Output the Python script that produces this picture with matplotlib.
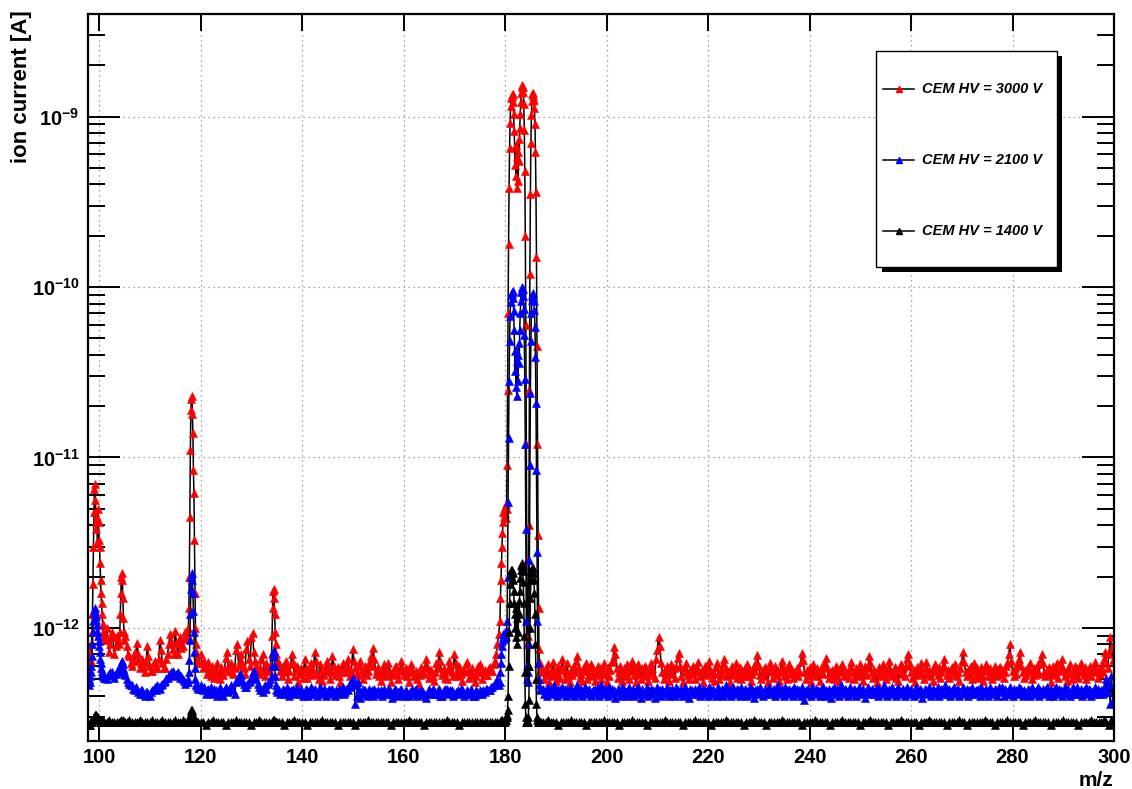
import matplotlib

matplotlib.use("Agg")
import matplotlib.pyplot as plt
import numpy as np
from matplotlib.lines import Line2D
from matplotlib.patches import Rectangle
from matplotlib.ticker import FixedLocator, FuncFormatter, LogLocator, NullFormatter, NullLocator

# ion currents below are given in units of 1e-14 A
UNIT = 1e-14

# scan segments as (first m/z, last m/z, step); the 0.1 steps sit on the peaks
SEGMENTS = [(98.0, 100.9, 0.1), (101.0, 103.75, 0.25), (104.0, 105.1, 0.1),
            (105.5, 117.25, 0.25), (117.5, 119.5, 0.1), (120.0, 133.75, 0.25),
            (134.0, 135.0, 0.1), (135.5, 178.75, 0.25), (179.0, 187.0, 0.1),
            (187.5, 300.0, 0.25)]
# the 1400 V scan was stored with a coarser step away from the peaks
BLACK_SEGMENTS = [(98.0, 100.9, 0.1), (101.0, 103.5, 0.5), (104.0, 105.1, 0.1),
                  (105.5, 117.0, 0.5), (117.5, 119.5, 0.1), (120.0, 133.5, 0.5),
                  (134.0, 135.0, 0.1), (135.5, 178.5, 0.5), (179.0, 187.0, 0.1),
                  (187.5, 300.0, 0.5)]

LABELS = ["CEM HV = 3000 V", "CEM HV = 2100 V", "CEM HV = 1400 V"]
COLORS = ["#ff0000", "#0000ff", "#000000"]
DECADES = [1e-12, 1e-11, 1e-10, 1e-9]

# ---- CEM HV = 3000 V ----
RED_98 = [62, 75, 56, 70, 64, 80, 95, 120, 180, 300,
          480, 650, 700, 560, 420, 380, 450, 320, 500, 420,
          330, 300, 240, 190, 160, 140, 120, 105, 95, 88]
RED_101 = [85, 92, 100, 86, 72, 80, 95, 88, 70, 78, 90, 84]
RED_104 = [80, 95, 120, 160, 200, 210, 190, 150, 115, 95, 85, 90]
RED_105 = [78, 70, 68, 62, 60, 66, 72, 64, 82, 70, 58, 62, 66, 60, 55, 62, 78, 68, 60, 56,
           56, 62, 64, 58, 58, 66, 85, 74, 62, 58, 58, 66, 70, 80, 92, 84, 75, 70, 96, 82,
           70, 80, 88, 76, 78, 86, 95, 90]
RED_117 = [90, 100, 130, 200, 450, 1100, 1900, 2200, 2300, 1800, 1400,
           850, 620, 330, 160, 100, 80, 72, 66, 70, 62]
RED_120 = [70, 62, 58, 64, 60, 54, 63, 57, 52, 60, 56, 51, 57, 62, 53, 50, 59, 55, 53, 58,
           67, 72, 56, 60, 62, 55, 54, 58, 74, 80, 60, 64, 70, 62, 58, 54, 75, 84, 66, 60,
           88, 93, 72, 64, 60, 56, 54, 58, 66, 70, 56, 52, 62, 58, 56, 60]
RED_134 = [70, 90, 130, 165, 170, 150, 120, 95, 80, 70, 64]
RED_135 = [62, 56, 52, 60, 55, 64, 58, 50, 56, 61, 70, 63, 52, 57, 60, 48, 54, 58, 55, 51,
           66, 58, 51, 55, 58, 62, 53, 57, 72, 64, 54, 50, 61, 56, 49, 53, 56, 60, 64, 58,
           50, 55, 68, 60, 53, 57, 59, 52, 48, 55, 62, 57, 55, 60, 66, 58, 52, 56, 75, 64,
           58, 54, 53, 60, 64, 57, 50, 55, 60, 53, 56, 62, 68, 60, 76, 66, 54, 57, 59, 52,
           49, 54, 57, 61, 52, 56, 62, 55, 48, 53, 55, 59, 60, 54, 50, 56, 64, 58, 53, 57,
           58, 52, 48, 55, 61, 57, 52, 54, 56, 50, 47, 53, 59, 55, 54, 60, 66, 58, 51, 56,
           57, 52, 49, 55, 62, 58, 72, 64, 53, 56, 58, 51, 50, 57, 64, 59, 55, 52, 70, 62,
           52, 57, 60, 54, 49, 55, 56, 61, 63, 57, 51, 54, 58, 53, 48, 52, 55, 60, 61, 56,
           50, 55, 57, 53, 53, 58, 59, 56, 56, 61, 64, 70, 80, 92]
RED_179 = [110, 150, 190, 240, 300, 360, 420, 480, 450, 510,
           470, 530, 440, 500, 900, 2500, 7000, 18000, 38000, 65000,
           92000, 115000, 128000, 134000, 131000, 135000, 122000, 104000, 82000, 66000,
           52000, 68000, 45000, 58000, 38000, 62000, 42000, 74000, 55000, 86000,
           104000, 122000, 138000, 149000, 154000, 150000, 140000, 118000, 84000, 48000,
           20000, 6000, 1200, 250, 80, 60, 90, 400, 2500, 12000,
           35000, 70000, 102000, 124000, 136000, 138000, 133000, 126000, 112000, 90000,
           62000, 36000, 15000, 4500, 1200, 350, 130, 75, 62, 56,
           58]
RED_187 = [55, 50, 58, 53, 61, 48, 56, 52, 63, 57, 49, 54, 60, 51, 57, 66, 59, 50, 55, 62,
           52, 48, 57, 53, 60, 55, 64, 68, 58, 51, 54, 49, 59, 56, 62, 50, 53, 58, 61, 52,
           57, 49, 55, 60, 53, 58, 50, 56, 62, 54, 48, 59, 52, 57, 63, 66, 77, 70, 58, 51,
           55, 60, 49, 54, 58, 52, 61, 56, 50, 57, 64, 59, 53, 48, 56, 61, 54, 50, 58, 53,
           60, 52, 57, 49, 55, 62, 58, 53, 51, 66, 74, 89, 78, 62, 55, 50, 57, 53, 60, 49,
           56, 61, 54, 58, 51, 59, 67, 71, 60, 52, 48, 55, 58, 62, 53, 50, 57, 54, 60, 56,
           50, 58, 63, 55, 52, 57, 48, 54, 60, 53, 58, 64, 56, 51, 55, 49, 59, 62, 54, 50,
           57, 53, 61, 66, 58, 52, 55, 48, 56, 60, 53, 57, 62, 51, 54, 59, 50, 56, 52, 58,
           55, 61, 52, 57, 49, 54, 60, 56, 63, 69, 60, 53, 50, 57, 52, 59, 55, 48, 56, 62,
           58, 51, 54, 60, 53, 57, 49, 55, 64, 59, 52, 56, 50, 58, 61, 54, 57, 51, 55, 53,
           58, 52, 56, 63, 71, 65, 55, 50, 57, 53, 59, 48, 54, 61, 56, 52, 58, 55, 49, 57,
           60, 54, 62, 67, 58, 51, 55, 53, 57, 50, 56, 60, 53, 49, 58, 55, 61, 52, 56, 54,
           55, 51, 59, 63, 56, 50, 54, 58, 52, 57, 61, 54, 49, 56, 60, 53, 58, 68, 62, 55,
           51, 57, 54, 48, 56, 59, 52, 55, 61, 57, 50, 54, 58, 64, 56, 52, 55, 59, 51, 57,
           49, 56, 61, 54, 58, 52, 60, 66, 70, 61, 55, 51, 57, 48, 54, 59, 53, 56, 62, 55,
           50, 58, 63, 54, 57, 52, 55, 49, 58, 61, 56, 53, 59, 51, 55, 60, 66, 58, 53, 57,
           51, 56, 59, 53, 57, 61, 52, 55, 49, 58, 64, 72, 63, 55, 52, 57, 54, 60, 50, 56,
           62, 53, 58, 51, 55, 59, 53, 49, 56, 61, 57, 52, 58, 54, 50, 56, 60, 55, 52, 58,
           59, 54, 57, 51, 55, 60, 62, 70, 80, 64, 56, 52, 58, 54, 61, 66, 72, 60, 55, 51,
           57, 53, 59, 56, 62, 50, 55, 58, 53, 57, 61, 54, 64, 70, 62, 55, 52, 57, 54, 59,
           48, 55, 60, 53, 57, 62, 51, 56, 59, 66, 58, 52, 55, 49, 57, 61, 54, 50, 56, 60,
           53, 58, 51, 55, 62, 57, 53, 59, 50, 56, 54, 60, 52, 57, 55, 63, 58, 51, 56, 54,
           60, 55, 66, 72, 62, 58, 70, 88, 76, 65, 82]

# ---- CEM HV = 2100 V ----
BLUE_98 = [50, 46, 52, 48, 55, 60, 68, 80, 95, 110,
           122, 128, 130, 126, 118, 112, 104, 96, 90, 84,
           78, 72, 66, 62, 58, 56, 54, 52, 53, 51]
BLUE_101 = [52, 51, 50, 53, 54, 55, 55, 53, 51, 54, 56, 55]
BLUE_104 = [55, 56, 58, 60, 62, 64, 63, 61, 58, 56, 54, 53]
BLUE_105 = [50, 48, 47, 46, 46, 44, 43, 45, 44, 42, 41, 43, 43, 41, 40, 42, 42, 41, 40, 42,
            43, 44, 45, 43, 46, 45, 44, 46, 47, 48, 49, 51, 51, 53, 54, 55, 56, 53, 52, 54,
            55, 53, 51, 52, 50, 49, 47, 48]
BLUE_117 = [48, 50, 55, 65, 85, 120, 170, 200, 210, 190, 160,
            125, 95, 72, 58, 50, 47, 46, 45, 46, 44]
BLUE_120 = [46, 44, 43, 45, 41, 43, 44, 42, 45, 43, 41, 44, 43, 40, 42, 45, 43, 41, 40, 44,
            45, 43, 42, 44, 46, 44, 43, 41, 48, 50, 52, 54, 53, 49, 47, 45, 45, 47, 48, 49,
            51, 55, 56, 52, 50, 47, 45, 43, 44, 42, 45, 46, 44, 47, 48, 50]
BLUE_134 = [52, 60, 68, 72, 73, 68, 60, 52, 46, 43, 42]
BLUE_135 = [43, 41, 42, 44, 41, 43, 45, 42, 40, 43, 42, 44, 41, 42, 45, 43, 41, 44, 42, 40,
            42, 44, 43, 40, 42, 45, 41, 43, 44, 41, 40, 43, 45, 42, 41, 44, 43, 40, 42, 44,
            41, 43, 44, 42, 40, 43, 41, 44, 42, 43, 45, 41, 42, 44, 43, 46, 45, 48, 51, 46,
            36, 40, 48, 44, 39, 42, 44, 41, 43, 40, 42, 44, 41, 43, 40, 44, 42, 41, 43, 41,
            43, 40, 42, 44, 41, 42, 44, 43, 41, 39, 42, 44, 43, 40, 42, 43, 44, 41, 40, 42,
            43, 41, 40, 42, 42, 44, 41, 43, 44, 40, 42, 41, 43, 42, 41, 40, 39, 42, 44, 41,
            42, 44, 43, 41, 41, 43, 44, 40, 40, 42, 43, 44, 44, 41, 42, 43, 43, 40, 41, 42,
            42, 43, 41, 44, 44, 42, 40, 41, 43, 42, 41, 44, 42, 40, 40, 43, 42, 41, 43, 42,
            41, 43, 42, 44, 44, 43, 43, 45, 45, 46, 47, 48, 50, 46]
BLUE_179 = [48, 55, 62, 70, 78, 84, 88, 92, 86, 94,
            88, 95, 90, 96, 110, 200, 550, 1300, 2800, 4800,
            6800, 8200, 9000, 9400, 9100, 9500, 8600, 7200, 5600, 4200,
            3200, 4300, 2600, 3700, 2300, 4000, 2800, 4700, 3600, 5600,
            7000, 8300, 9300, 9800, 10000, 9700, 8900, 7400, 5200, 2900,
            1200, 380, 110, 60, 50, 48, 55, 80, 250, 900,
            2400, 4800, 7000, 8400, 9000, 9200, 8800, 8300, 7300, 5800,
            3900, 2100, 850, 280, 110, 62, 50, 46, 44, 43,
            44]
BLUE_187 = [44, 41, 43, 40, 45, 42, 44, 41, 43, 46, 42, 40, 44, 43, 41, 45, 42, 44, 40, 43,
            42, 45, 41, 43, 40, 44, 42, 46, 41, 43, 44, 40, 42, 45, 41, 43, 44, 42, 40, 43,
            41, 44, 42, 45, 40, 43, 46, 42, 41, 44, 43, 40, 45, 42, 44, 41, 43, 39, 42, 44,
            43, 40, 45, 41, 44, 42, 40, 43, 45, 41, 42, 44, 40, 43, 41, 45, 42, 39, 44, 42,
            41, 43, 45, 40, 42, 44, 41, 43, 39, 42, 45, 41, 43, 40, 44, 42, 41, 43, 45, 40,
            43, 41, 44, 42, 40, 45, 43, 41, 42, 44, 40, 43, 45, 41, 42, 39, 44, 43, 41, 42,
            44, 41, 43, 45, 40, 42, 44, 41, 43, 42, 40, 45, 43, 41, 44, 42, 40, 43, 45, 41,
            42, 44, 40, 43, 46, 41, 42, 44, 40, 43, 45, 41, 42, 44, 43, 40, 45, 42, 41, 44,
            43, 40, 42, 45, 41, 44, 39, 43, 42, 44, 41, 45, 43, 40, 42, 44, 41, 43, 45, 42,
            41, 43, 44, 40, 42, 46, 43, 41, 44, 42, 40, 45, 43, 41, 44, 42, 43, 40, 45, 42,
            44, 41, 43, 40, 45, 42, 38, 43, 41, 44, 42, 40, 45, 43, 41, 44, 42, 43, 40, 44,
            42, 45, 40, 43, 41, 44, 42, 39, 43, 45, 41, 42, 44, 40, 43, 46, 42, 41, 44, 43,
            40, 43, 45, 42, 41, 44, 43, 40, 42, 45, 41, 43, 44, 42, 39, 43, 45, 41, 42, 44,
            43, 41, 42, 45, 40, 44, 42, 43, 41, 46, 43, 40, 42, 44, 41, 45, 43, 42, 40, 44,
            45, 42, 41, 43, 44, 40, 42, 45, 43, 41, 44, 42, 40, 43, 45, 41, 42, 44, 43, 39,
            42, 44, 43, 41, 45, 42, 40, 44, 43, 41, 42, 45, 40, 43, 44, 41, 42, 46, 43, 41,
            44, 40, 43, 42, 45, 41, 43, 44, 40, 42, 43, 45, 41, 42, 44, 40, 43, 41, 45, 42,
            41, 43, 42, 44, 40, 45, 42, 41, 43, 44, 42, 40, 45, 43, 41, 42, 44, 43, 40, 45,
            43, 42, 45, 40, 44, 41, 42, 43, 45, 41, 40, 44, 42, 43, 41, 45, 42, 44, 40, 43,
            42, 41, 44, 43, 40, 45, 43, 42, 41, 44, 45, 40, 43, 42, 44, 41, 43, 45, 42, 40,
            44, 42, 40, 43, 45, 41, 42, 44, 43, 40, 42, 45, 41, 43, 44, 40, 42, 43, 45, 41,
            43, 45, 41, 42, 44, 40, 43, 42, 45, 41, 44, 43, 40, 42, 41, 45, 43, 44, 42, 41,
            43, 41, 45, 44, 50, 42, 47, 36, 52, 38, 46]

# ---- CEM HV = 1400 V ----
BLACK_98 = [27, 27, 28, 27, 28, 28, 28, 29, 29, 29,
            30, 30, 31, 31, 31, 31, 30, 30, 30, 29,
            29, 29, 28, 28, 28, 28, 29, 28, 28, 28]
BLACK_101 = [28, 28, 29, 28, 28, 28]
BLACK_104 = [28, 28, 28, 29, 28, 28, 28, 28, 29, 28, 28, 28]
BLACK_105 = [28, 29, 28, 28, 28, 29, 28, 28, 28, 28, 29, 28,
             28, 28, 29, 28, 28, 28, 28, 29, 28, 28, 29, 28]
BLACK_117 = [28, 28, 28, 29, 30, 31, 32, 33, 33, 32, 31,
             30, 29, 29, 28, 28, 28, 28, 28, 28, 28]
BLACK_120 = [28, 28, 27, 28, 28, 29, 28, 28, 28, 28, 27, 28, 28, 28,
             29, 28, 28, 28, 28, 28, 27, 28, 28, 29, 28, 28, 28, 28]
BLACK_134 = [28, 28, 28, 29, 29, 29, 28, 28, 28, 28, 28]
BLACK_135 = [28, 28, 27, 28, 28, 28, 29, 28, 28, 28,
             28, 27, 28, 28, 28, 28, 28, 29, 28, 28,
             28, 28, 28, 27, 28, 28, 28, 28, 28, 28,
             27, 28, 28, 28, 28, 29, 28, 28, 28, 28,
             28, 28, 28, 28, 27, 28, 28, 28, 28, 28,
             28, 29, 28, 28, 28, 28, 28, 27, 28, 28,
             28, 28, 28, 28, 28, 28, 29, 28, 28, 28,
             28, 27, 28, 28, 28, 28, 28, 28, 28, 28,
             28, 28, 28, 28, 28, 28, 28]
BLACK_179 = [28, 28, 29, 28, 28, 29, 28, 28, 29, 28,
             29, 29, 30, 30, 31, 33, 40, 60, 95, 140,
             180, 205, 218, 212, 220, 210, 190, 165, 140, 120,
             100, 130, 88, 115, 80, 125, 95, 144, 120, 165,
             195, 220, 235, 240, 232, 215, 185, 140, 90, 55,
             36, 30, 28, 28, 29, 28, 30, 38, 60, 100,
             150, 190, 215, 225, 218, 224, 210, 190, 160, 120,
             80, 50, 36, 30, 29, 28, 28, 28, 28, 28,
             28]
BLACK_187 = [28, 28, 29, 28, 28, 28, 27, 28, 28, 28, 28, 29, 28, 28, 28, 28, 28, 27, 28, 28,
             28, 28, 28, 28, 29, 28, 28, 28, 28, 28, 27, 28, 28, 28, 28, 29, 28, 28, 28, 28,
             28, 27, 28, 28, 28, 28, 28, 28, 29, 28, 28, 28, 28, 28, 28, 27, 28, 28, 28, 28,
             29, 28, 28, 28, 28, 28, 27, 28, 28, 28, 28, 28, 29, 28, 28, 28, 28, 28, 28, 27,
             28, 28, 28, 29, 28, 28, 28, 28, 27, 28, 28, 28, 28, 28, 29, 28, 28, 28, 28, 28,
             28, 28, 27, 28, 28, 28, 28, 29, 28, 28, 28, 28, 28, 27, 28, 28, 28, 28, 29, 28,
             28, 28, 28, 28, 28, 27, 28, 28, 28, 29, 28, 28, 28, 28, 28, 28, 27, 28, 28, 28,
             28, 29, 28, 28, 28, 28, 28, 28, 27, 28, 28, 28, 29, 28, 28, 28, 28, 28, 28, 27,
             28, 28, 28, 28, 29, 28, 28, 27, 28, 28, 28, 28, 28, 28, 29, 28, 28, 28, 27, 28,
             28, 28, 28, 29, 28, 28, 28, 28, 28, 27, 28, 28, 28, 28, 29, 28, 28, 28, 28, 28,
             27, 28, 28, 28, 28, 29, 28, 28, 28, 28, 28, 27, 28, 28, 28, 28, 29, 28, 28, 28,
             28, 29, 28, 27, 29, 28]

RED = [RED_98, RED_101, RED_104, RED_105, RED_117, RED_120, RED_134, RED_135, RED_179, RED_187]
BLUE = [BLUE_98, BLUE_101, BLUE_104, BLUE_105, BLUE_117, BLUE_120, BLUE_134, BLUE_135,
        BLUE_179, BLUE_187]
BLACK = [BLACK_98, BLACK_101, BLACK_104, BLACK_105, BLACK_117, BLACK_120, BLACK_134, BLACK_135,
         BLACK_179, BLACK_187]

W, H = 1132, 789


def fx(x):
    return x / W


def fy(y):
    return 1 - y / H


def build(parts, segments):
    mz, cur = [], []
    for (start, stop, step), vals in zip(segments, parts):
        n = int(round((stop - start) / step)) + 1
        assert len(vals) == n, f"segment {start}: {len(vals)} values, expected {n}"
        mz.append(start + step * np.arange(n))
        cur.append(np.asarray(vals, dtype=float) * UNIT)
    return np.concatenate(mz), np.concatenate(cur)


def decade_label(v, _pos):
    return r"$\mathbf{10^{%d}}$" % int(round(np.log10(v)))


plt.rcParams["font.family"] = ["Liberation Sans", "DejaVu Sans"]
plt.rcParams["mathtext.fontset"] = "custom"
plt.rcParams["mathtext.rm"] = "Liberation Sans"
plt.rcParams["mathtext.bf"] = "Liberation Sans:bold"

fig = plt.figure(figsize=(W / 100, H / 100), dpi=100)
ax = fig.add_axes([fx(88), fy(741), (1114 - 88) / W, (741 - 14) / H])

series = [(RED, SEGMENTS), (BLUE, SEGMENTS), (BLACK, BLACK_SEGMENTS)]
for (parts, segments), color in zip(series, COLORS):
    mz, cur = build(parts, segments)
    ax.plot(mz, cur, color="black", lw=1.1, marker="^", ms=6.3,
            mfc=color, mec=color, mew=0.4)

ax.set_yscale("log")
ax.set_xlim(97.83, 300.0)
ax.set_ylim(2.17e-13, 4.0e-9)

ax.xaxis.set_major_locator(FixedLocator(np.arange(100, 301, 20)))
ax.xaxis.set_minor_locator(NullLocator())
ax.yaxis.set_major_locator(FixedLocator(DECADES))
ax.yaxis.set_minor_locator(LogLocator(base=10, subs=np.arange(2, 10), numticks=20))
ax.yaxis.set_major_formatter(FuncFormatter(decade_label))
ax.yaxis.set_minor_formatter(NullFormatter())

ax.tick_params(which="both", direction="in", top=True, right=True, width=1.4, color="black")
ax.tick_params(axis="x", which="major", length=12.5, pad=5, labelsize=14.5)
ax.tick_params(axis="y", which="major", length=23, pad=6, labelsize=14.5)
ax.tick_params(axis="y", which="minor", length=12)
for lab in ax.get_xticklabels():
    lab.set_fontweight("bold")
for side in ax.spines.values():
    side.set_linewidth(1.6)

ax.grid(True, which="major", ls=(0, (1, 3)), color="#888888", lw=0.9)
ax.set_axisbelow(True)

# axis titles in the ROOT style corners
fig.text(fx(1113), fy(781), "m/z", ha="right", va="center", fontsize=15, fontweight="bold")
fig.text(fx(22), fy(10), "ion current [A]", rotation=90, ha="center", va="top",
         fontsize=16, fontweight="bold")

# legend box with drop shadow
fig.add_artist(Rectangle((fx(882), fy(272)), (1062 - 882) / W, (272 - 56) / H,
                         transform=fig.transFigure, facecolor="black", edgecolor="none"))
fig.add_artist(Rectangle((fx(876), fy(267)), (1057 - 876) / W, (267 - 51) / H,
                         transform=fig.transFigure, facecolor="white", edgecolor="black", lw=1))
for row_y, label, color in zip([89, 160, 231], LABELS, COLORS):
    fig.add_artist(Line2D([fx(883), fx(914)], [fy(row_y)] * 2, color="black", lw=1.1,
                          transform=fig.transFigure))
    fig.add_artist(Line2D([fx(899)], [fy(row_y)], ls="none", marker="^", ms=5,
                          mfc=color, mec=color, transform=fig.transFigure))
    fig.text(fx(922), fy(row_y), label, ha="left", va="center", fontsize=10.5,
             fontweight="bold", fontstyle="italic")

fig.savefig("out.png", dpi=100)
